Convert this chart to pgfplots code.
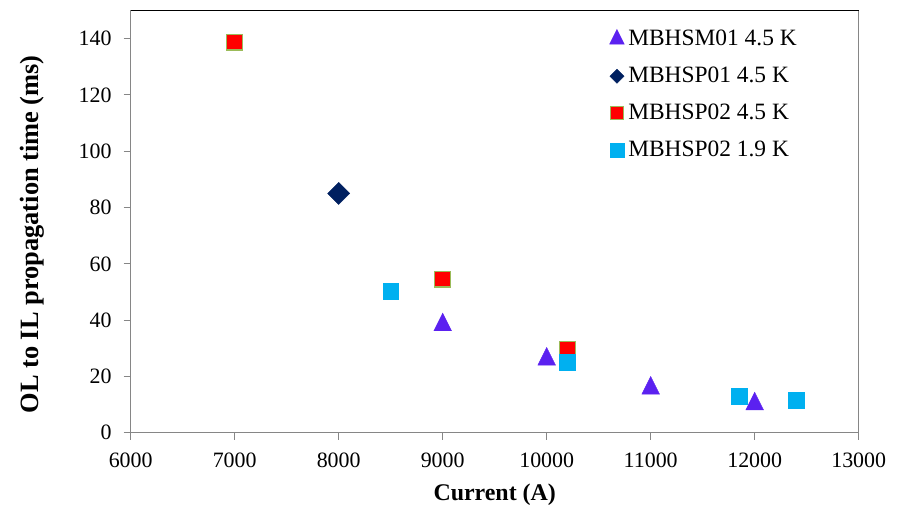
\documentclass[border=0pt]{standalone}
\usepackage{pgfplots}
\pgfplotsset{compat=1.18}
\usepackage{fontspec}
\setmainfont{Liberation Serif}
\definecolor{tri}{RGB}{91,33,240}
\definecolor{navyx}{RGB}{0,32,96}
\definecolor{cyanx}{RGB}{0,176,240}
\definecolor{olivex}{RGB}{155,187,89}
\definecolor{axgray}{RGB}{134,134,134}
\newcommand{\tickfont}{\fontsize{22}{24}\selectfont}
\pgfplotsset{legmark/.style={legend image code/.code={\draw[##1, every mark/.append style={scale=#1}] plot coordinates {(0bp,0bp)};}}}
\begin{document}
\begin{tikzpicture}
\begin{axis}[
  scale only axis, width=728bp, height=422.2bp,
  xmin=6000, xmax=13000, ymin=0, ymax=150,
  xtick={6000,7000,...,13000}, ytick={0,20,...,140},
  axis line style={axgray, line width=0.9bp},
  tick style={axgray, line width=0.9bp}, major tick length=7bp, tick align=outside,
  xtick pos=bottom, ytick pos=left,
  scaled x ticks=false,
  /pgf/number format/1000 sep={},
  /pgf/number format/assume math mode=true,
  xticklabel style={font=\tickfont, inner sep=0pt, anchor=north, yshift=-13bp},
  yticklabel style={font=\tickfont, inner sep=0pt, anchor=east, xshift=-12bp},
  xlabel={Current (A)}, ylabel={OL to IL propagation time (ms)},
  xlabel style={font=\fontsize{24}{26}\selectfont\bfseries, at={(axis description cs:0.5,-0.161)}, anchor=base},
  ylabel style={font=\fontsize{26.5}{28}\selectfont\bfseries, at={(axis description cs:-0.127,0.47)}, anchor=base},
  legend style={at={(axis description cs:0.6576,0.9585)}, anchor=north west, draw=none, fill=none,
    font=\fontsize{23.5}{25}\selectfont, row sep=15bp, column sep=4bp, inner sep=0pt,
    nodes={inner sep=0pt, text height=17bp, text depth=5bp}},
  legend cell align=left,
  after end axis/.code={\draw[black, line width=0.9bp] (rel axis cs:0,1) -- (rel axis cs:1,1);},
]
\addplot[only marks, mark=triangle*, color=tri, mark size=10.2bp, mark options={yscale=1.155}, legmark=0.83]
  coordinates {(9000,38.3) (10000,26.1) (11000,15.8) (12000,10.2)};
\addlegendentry{MBHSM01 4.5 K}
\addplot[only marks, mark=square*, color=navyx, mark size=7.8bp, mark options={rotate=45}, legmark=0.64]
  coordinates {(8000,85)};
\addlegendentry{MBHSP01 4.5 K}
\addplot[only marks, mark=square*, mark size=7.9bp, mark options={fill=red, draw=olivex, line width=1.2bp}, legmark=0.82]
  coordinates {(7000,138.8) (9000,54.6) (10200,29.6)};
\addlegendentry{MBHSP02 4.5 K}
\addplot[only marks, mark=square*, color=cyanx, mark size=7.9bp, legmark=0.9]
  coordinates {(8500,50.3) (10200,25.0) (11850,13.1) (12400,11.6)};
\addlegendentry{MBHSP02 1.9 K}
\end{axis}
\pgfresetboundingbox
\path (-130.7bp,-72.3bp) rectangle (767.3bp,432.7bp);
\end{tikzpicture}
\end{document}
